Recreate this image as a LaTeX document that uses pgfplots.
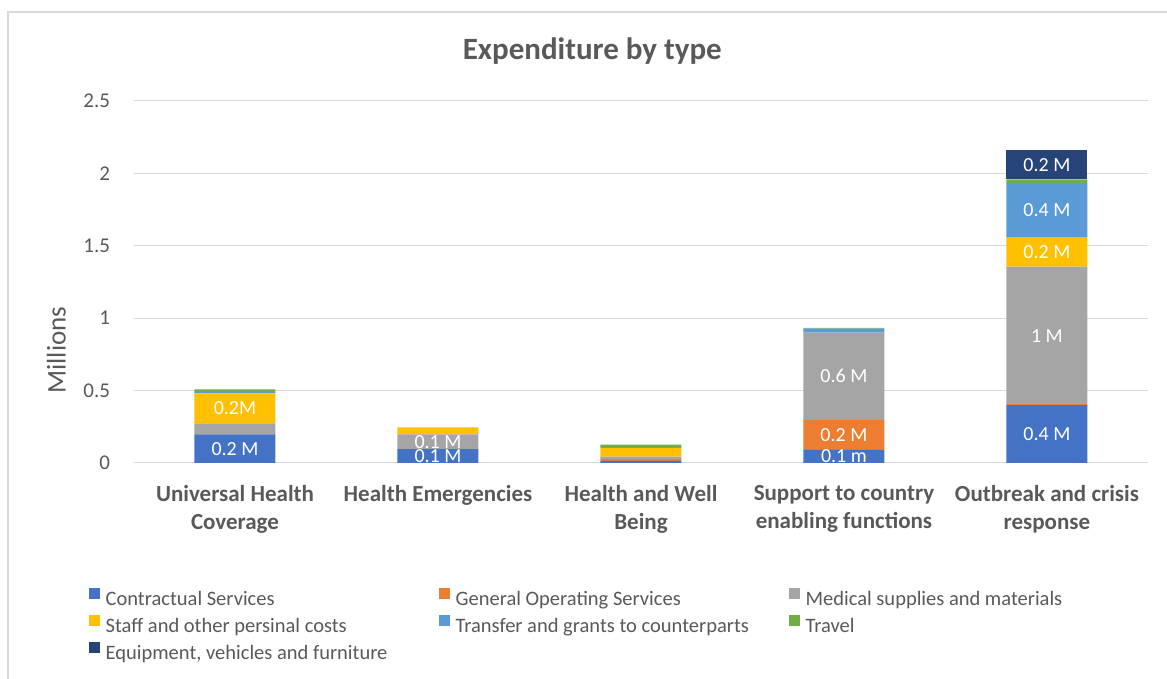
\documentclass[border=0pt]{standalone}
\usepackage{fontspec}
\setmainfont{Carlito}
\usepackage{pgfplots}
\pgfplotsset{compat=1.18}
\definecolor{cA}{HTML}{4472C4}
\definecolor{cB}{HTML}{ED7D31}
\definecolor{cC}{HTML}{A5A5A5}
\definecolor{cD}{HTML}{FFC000}
\definecolor{cE}{HTML}{5B9BD5}
\definecolor{cF}{HTML}{70AD47}
\definecolor{cG}{HTML}{264478}
\definecolor{txt}{HTML}{595959}
\definecolor{gridc}{HTML}{D9D9D9}
\newcommand{\LE}[1]{\hspace*{2.5pt}\makebox[330.5pt][l]{#1}}
\begin{document}
\begin{tikzpicture}
\useasboundingbox (0pt,0pt) rectangle (1167pt,679pt);
\draw[gridc, line width=1.5pt] (8pt,-20pt) -- (8pt,667pt) -- (1190pt,667pt);
\begin{axis}[
  at={(133.5pt,216pt)}, anchor=south west,
  scale only axis, width=1015pt, height=362pt,
  ybar stacked, bar width=81pt,
  xmin=-0.5, xmax=4.5, ymin=0, ymax=2.5,
  xtick={0,1,2,3,4},
  xticklabels={{Universal Health\\Coverage},{Health Emergencies},{Health and Well\\Being},{Support to country\\enabling functions},{Outbreak and crisis\\response}},
  ytick={0,0.5,1,1.5,2,2.5},
  yticklabels={0,0.5,1,1.5,2,2.5},
  major tick length=0pt,
  tick style={draw=none},
  axis line style={draw=none},
  xmajorgrids=false,
  ymajorgrids=true, grid style={draw=gridc, line width=1pt},
  xticklabel style={font=\fontsize{23}{28}\selectfont\bfseries, text=txt, align=center, anchor=north, yshift=-19pt},
  yticklabel style={font=\fontsize{21}{25}\selectfont, text=txt, anchor=east, xshift=-20pt},
  ylabel={Millions},
  ylabel style={font=\fontsize{27}{32}\selectfont, text=txt, at={(axis description cs:-0.076,0.312)}, anchor=center},
  title={Expenditure by type},
  title style={font=\fontsize{31}{37}\selectfont\bfseries, text=txt, at={(axis description cs:0.452,1.122)}, anchor=center},
  legend columns=3,
  legend cell align=left,
  legend style={draw=none, fill=none, at={(axis description cs:-0.0439,-0.338)}, anchor=north west,
    inner xsep=0pt, inner ysep=0pt, column sep=0pt, row sep=0pt,
    font=\fontsize{20.5}{25}\selectfont, text=txt,
    nodes={inner xsep=3pt, inner ysep=0pt, text height=20pt, text depth=7pt}},
  legend image code/.code={\fill[#1] (0pt,0pt) rectangle (11pt,11pt);},
]
\addplot[fill=cA, draw=none] coordinates {(0,0.198) (1,0.095) (2,0.014) (3,0.090) (4,0.400)};
\addlegendentry{\LE{Contractual Services}}
\addplot[fill=cB, draw=none] coordinates {(0,0) (1,0) (2,0.012) (3,0.207) (4,0.007)};
\addlegendentry{\LE{General Operating Services}}
\addplot[fill=cC, draw=none] coordinates {(0,0.076) (1,0.103) (2,0.018) (3,0.603) (4,0.949)};
\addlegendentry{\LE{Medical supplies and materials}}
\addplot[fill=cD, draw=none] coordinates {(0,0.207) (1,0.048) (2,0.060) (3,0) (4,0.200)};
\addlegendentry{\LE{Staff and other persinal costs}}
\addplot[fill=cE, draw=none] coordinates {(0,0.008) (1,0) (2,0) (3,0.028) (4,0.376)};
\addlegendentry{\LE{Transfer and grants to counterparts}}
\addplot[fill=cF, draw=none] coordinates {(0,0.020) (1,0) (2,0.023) (3,0.005) (4,0.027)};
\addlegendentry{\LE{Travel}}
\addplot[fill=cG, draw=none] coordinates {(0,0) (1,0) (2,0) (3,0) (4,0.203)};
\addlegendentry{\LE{Equipment, vehicles and furniture}}
\end{axis}
\begin{axis}[
  at={(133.5pt,216pt)}, anchor=south west,
  scale only axis, width=1015pt, height=362pt,
  xmin=-0.5, xmax=4.5, ymin=0, ymax=2.5,
  hide axis, clip=false,
  point meta=explicit symbolic,
  nodes near coords,
  every node near coord/.style={anchor=center, text=white, font=\fontsize{20}{24}\selectfont},
]
\addplot[draw=none, mark=none] coordinates {
  (0,0.099) [0.2 M] (0,0.378) [0.2M]
  (1,0.047) [0.1 M] (1,0.147) [0.1 M]
  (3,0.045) [0.1 m] (3,0.194) [0.2 M] (3,0.599) [0.6 M]
  (4,0.200) [0.4 M] (4,0.880) [1 M] (4,1.456) [0.2 M] (4,1.744) [0.4 M] (4,2.060) [0.2 M]
};
\end{axis}
\end{tikzpicture}
\end{document}
